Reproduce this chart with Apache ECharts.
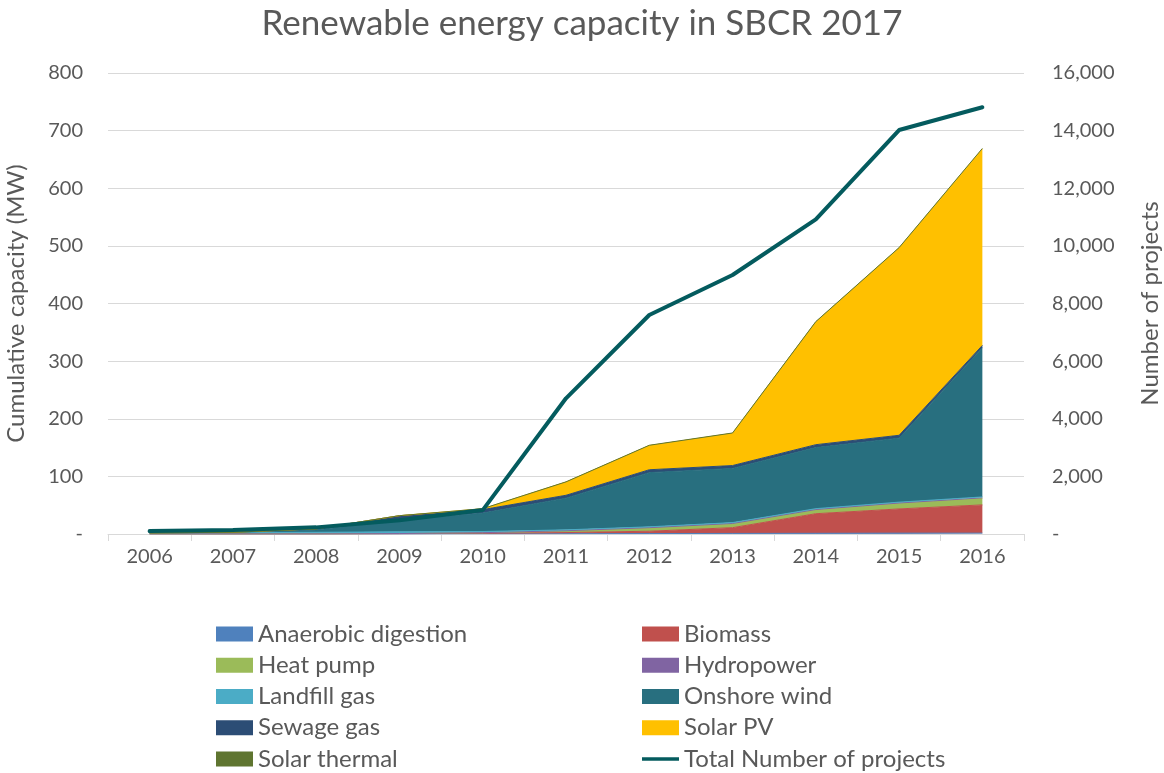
<!DOCTYPE html>
<html>
<head>
<meta charset="utf-8">
<script src="https://cdn.jsdelivr.net/npm/echarts@6/dist/echarts.min.js"></script>
<style>
  html, body { margin: 0; padding: 0; background: #fff; }
  #main { width: 1164px; height: 773px; }
</style>
</head>
<body>
<div id="main"></div>
<script>
// years on the x axis
const years = ['2006', '2007', '2008', '2009', '2010', '2011', '2012', '2013', '2014', '2015', '2016']

// cumulative capacity (MW), stacked
const anaerobicDigestion = [0, 0, 0, 0, 0.3, 0.5, 0.8, 1, 1.2, 1.5, 1.5]
const biomass = [0, 0, 0, 0.5, 1, 2, 4, 10, 34, 42, 49]
const heatPump = [0, 0, 0, 0.3, 1, 3, 6, 7, 7, 10, 12]
const hydropower = [0, 0, 0, 0, 0, 0.2, 0.2, 0.3, 0.3, 0.3, 0.3]
const landfillGas = [2, 2.5, 3, 3, 2, 1.5, 1.5, 1.5, 1.5, 1.5, 1.5]
const onshoreWind = [0, 0.5, 4, 20, 32, 55, 94, 94, 106, 111, 259]
const sewageGas = [0, 0, 2, 8, 6, 5, 5, 5, 5, 5, 4]
const solarPV = [0, 0, 0, 0, 1.5, 23, 42, 56, 213, 325, 341]
const solarThermal = [0, 0, 0, 0, 0.2, 0.3, 0.5, 0.5, 0.6, 0.7, 0.8]

// total number of projects (right axis)
const totalProjects = [100, 140, 230, 480, 830, 4710, 7600, 8990, 10920, 14020, 14810]

const chart = echarts.init(document.getElementById('main'))

const font = 'Lato, "Open Sans", sans-serif'
const grey = '#595959'

function areaSeries(name, data, color) {
  return {
    name: name,
    type: 'line',
    stack: 'capacity',
    yAxisIndex: 0,
    data: data,
    symbol: 'none',
    silent: true,
    lineStyle: { width: 1, color: color },
    itemStyle: { color: color },
    areaStyle: { color: color, opacity: 1 }
  }
}

function dashZero(fmt) {
  return function(v) {
    return v === 0 ? '-' : fmt(v)
  }
}

const legendBase = {
  orient: 'vertical',
  top: 622,
  height: 160,
  padding: 0,
  itemWidth: 37,
  itemHeight: 15,
  itemGap: 7.25,
  textStyle: { fontFamily: font, fontSize: 24, color: grey, lineHeight: 24 }
}

chart.setOption({
  animation: false,
  title: {
    text: 'Renewable energy capacity in SBCR 2017',
    left: 'center',
    top: 1,
    textStyle: { fontFamily: font, fontSize: 35, fontWeight: 'normal', color: grey }
  },
  grid: {
    left: 108,
    right: 140,
    top: 73,
    bottom: 239,
    outerBoundsMode: 'none'
  },
  legend: [
    Object.assign({}, legendBase, {
      left: 216,
      icon: 'rect',
      data: ['Anaerobic digestion', 'Heat pump', 'Landfill gas', 'Sewage gas', 'Solar thermal']
    }),
    Object.assign({}, legendBase, {
      left: 642,
      data: [
        { name: 'Biomass', icon: 'rect' },
        { name: 'Hydropower', icon: 'rect' },
        { name: 'Onshore wind', icon: 'rect' },
        { name: 'Solar PV', icon: 'rect' },
        { name: 'Total Number of projects', icon: 'path://M0,0 L40,0 L40,4 L0,4 Z' }
      ]
    })
  ],
  xAxis: {
    type: 'category',
    data: years,
    boundaryGap: true,
    axisLine: { lineStyle: { color: '#d9d9d9', width: 1 } },
    axisTick: { show: true, length: 7, lineStyle: { color: '#d9d9d9' } },
    axisLabel: { fontFamily: font, fontSize: 20, color: grey, margin: 13 }
  },
  yAxis: [
    {
      type: 'value',
      min: 0,
      max: 800,
      interval: 100,
      name: 'Cumulative capacity (MW)',
      nameLocation: 'middle',
      nameGap: 80,
      nameTextStyle: { fontFamily: font, fontSize: 24, color: grey },
      axisLine: { show: false },
      axisTick: { show: false },
      splitLine: { lineStyle: { color: '#d9d9d9', width: 1 } },
      axisLabel: {
        fontFamily: font, fontSize: 20, color: grey, margin: 25,
        formatter: dashZero(v => String(v))
      }
    },
    {
      type: 'value',
      min: 0,
      max: 16000,
      interval: 2000,
      name: 'Number of projects',
      nameLocation: 'middle',
      nameGap: 114,
      nameRotate: 90,
      nameTextStyle: { fontFamily: font, fontSize: 24, color: grey },
      axisLine: { show: false },
      axisTick: { show: false },
      splitLine: { show: false },
      axisLabel: {
        fontFamily: font, fontSize: 20, color: grey, margin: 28,
        formatter: dashZero(v => v.toLocaleString('en-US'))
      }
    }
  ],
  series: [
    areaSeries('Anaerobic digestion', anaerobicDigestion, '#4f81bd'),
    areaSeries('Biomass', biomass, '#c0504d'),
    areaSeries('Heat pump', heatPump, '#9bbb59'),
    areaSeries('Hydropower', hydropower, '#8064a2'),
    areaSeries('Landfill gas', landfillGas, '#4bacc6'),
    areaSeries('Onshore wind', onshoreWind, '#286f7f'),
    areaSeries('Sewage gas', sewageGas, '#2c4d75'),
    areaSeries('Solar PV', solarPV, '#ffc000'),
    areaSeries('Solar thermal', solarThermal, '#5f7530'),
    {
      name: 'Total Number of projects',
      type: 'line',
      yAxisIndex: 1,
      data: totalProjects,
      symbol: 'none',
      silent: true,
      z: 5,
      itemStyle: { color: '#045b5e' },
      lineStyle: { width: 4, color: '#045b5e', cap: 'round' }
    }
  ]
})
</script>
</body>
</html>
